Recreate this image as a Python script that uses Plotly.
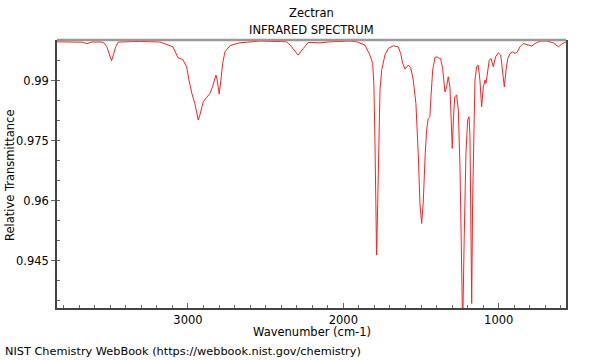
import plotly.graph_objects as go

# Spectrum data (wavenumber in cm-1, relative transmittance)
wavenumber = [
    3843, 3750, 3680, 3651, 3620, 3560, 3542, 3522, 3505, 3492, 3480, 3465, 3451, 3439,
    3310, 3181, 3097, 3065, 3033, 3009, 2994, 2975, 2956, 2945, 2934, 2923, 2902, 2880,
    2859, 2842, 2831, 2820, 2812, 2799, 2788, 2777, 2762, 2730, 2666, 2537, 2400, 2365,
    2333, 2291, 2258, 2226, 2151, 2086, 1958, 1914, 1861, 1829, 1811, 1803, 1797, 1790,
    1786, 1779, 1773, 1764, 1753, 1732, 1711, 1679, 1647, 1631, 1618, 1603, 1582, 1567,
    1550, 1533, 1518, 1507, 1496, 1486, 1473, 1464, 1454, 1443, 1436, 1425, 1410, 1396,
    1383, 1374, 1361, 1346, 1335, 1325, 1314, 1305, 1299, 1292, 1283, 1271, 1260, 1249,
    1238, 1232, 1222, 1211, 1200, 1191, 1185, 1179, 1174, 1168, 1161, 1153, 1142, 1132,
    1121, 1110, 1099, 1088, 1082, 1074, 1061, 1050, 1035, 1020, 1003, 987, 974, 964,
    953, 942, 927, 910, 895, 880, 863, 842, 810, 788, 766, 734, 691, 649, 616, 594, 567,
]
transmittance = [
    0.99975, 0.99970, 0.99965, 0.99930, 0.99970, 0.99970, 0.99950, 0.99850, 0.99650, 0.99500,
    0.99650, 0.99850, 0.99960, 0.99970, 0.99985, 0.99970, 0.99850, 0.99580, 0.99530, 0.99350,
    0.99025, 0.98683, 0.98433, 0.98225, 0.98018, 0.98150, 0.98475, 0.98583, 0.98683, 0.98850,
    0.99018, 0.99143, 0.99018, 0.98668, 0.99018, 0.99433, 0.99725, 0.99880, 0.99950, 0.99993,
    0.99980, 0.99975, 0.99850, 0.99643, 0.99808, 0.99958, 0.99950, 0.99975, 0.99993, 0.99975,
    0.99893, 0.99643, 0.99433, 0.98850, 0.97600, 0.95933, 0.94643, 0.95933, 0.97600, 0.98775,
    0.99275, 0.99650, 0.99808, 0.99875, 0.99850, 0.99683, 0.99433, 0.99293, 0.99393, 0.99333,
    0.99018, 0.98433, 0.97183, 0.95933, 0.95433, 0.95933, 0.97183, 0.97768, 0.98058, 0.98100,
    0.98600, 0.99268, 0.99583, 0.99600, 0.99558, 0.99558, 0.99308, 0.98725, 0.98850, 0.99100,
    0.98850, 0.98018, 0.97308, 0.98018, 0.98600, 0.98643, 0.98268, 0.96775, 0.94683, 0.92800,
    0.95100, 0.97183, 0.98018, 0.98100, 0.97600, 0.95933, 0.93433, 0.95933, 0.98018, 0.99018,
    0.99350, 0.99393, 0.99018, 0.98350, 0.98850, 0.99018, 0.98933, 0.99183, 0.99518, 0.99558,
    0.99350, 0.99600, 0.99700, 0.99643, 0.99268, 0.98850, 0.99268, 0.99558, 0.99683, 0.99725,
    0.99683, 0.99725, 0.99850, 0.99933, 0.99893, 0.99868, 0.99933, 0.99993, 0.99993, 0.99950,
    0.99850, 0.99918, 0.99975,
]

x_ticks = [3000, 2000, 1000]
y_ticks = [0.945, 0.96, 0.975, 0.99]
y_tick_labels = ["0.945", "0.96", "0.975", "0.99"]

title_line1 = "Zectran"
title_line2 = "INFRARED SPECTRUM"
x_title = "Wavenumber (cm-1)"
y_title = "Relative Transmittance"
footer = "NIST Chemistry WebBook (https://webbook.nist.gov/chemistry)"

FONT = "DejaVu Sans"
FS = 11.5

fig = go.Figure()
fig.add_trace(go.Scatter(
    x=wavenumber, y=transmittance, mode="lines",
    line=dict(color="#ff2020", width=1),
    hoverinfo="skip", showlegend=False,
))

fig.update_layout(
    width=600, height=360,
    margin=dict(l=57, r=34, t=40, b=52),
    paper_bgcolor="white", plot_bgcolor="white",
    font=dict(family=FONT, size=FS, color="black"),
    showlegend=False,
)

fig.update_xaxes(
    range=[3843, 567], tickvals=x_ticks, ticktext=[str(v) for v in x_ticks],
    showgrid=False, zeroline=False,
    showline=True, linecolor="#444", linewidth=1.5, mirror=False,
    ticks="inside", ticklen=5, tickcolor="#666",
    minor=dict(dtick=100, tick0=0, ticks="inside", ticklen=3, tickcolor="#666", showgrid=False),
    tickfont=dict(family=FONT, size=FS),
)
fig.update_yaxes(
    range=[0.9332, 1.0002], tickvals=y_ticks, ticktext=y_tick_labels,
    showgrid=False, zeroline=False,
    showline=True, linecolor="#444", linewidth=1.5, mirror=True,
    ticks="outside", ticklen=4, tickcolor="#666",
    minor=dict(dtick=0.005, tick0=0, ticks="inside", ticklen=3, tickcolor="#666", showgrid=False),
    tickfont=dict(family=FONT, size=FS),
)

# gray frame top line
fig.add_shape(type="line", xref="paper", yref="paper", x0=0, x1=1, y0=1, y1=1,
              line=dict(color="#999", width=2.5))

fig.add_annotation(text=title_line1, xref="paper", yref="paper", x=0.5, y=1.1007,
                   xanchor="center", yanchor="middle", showarrow=False,
                   font=dict(family=FONT, size=FS))
fig.add_annotation(text=title_line2, xref="paper", yref="paper", x=0.5, y=1.037,
                   xanchor="center", yanchor="middle", showarrow=False,
                   font=dict(family=FONT, size=FS))
fig.add_annotation(text=x_title, xref="paper", yref="paper", x=0.5, y=-0.0896,
                   xanchor="center", yanchor="middle", showarrow=False,
                   font=dict(family=FONT, size=FS))
fig.add_annotation(text=y_title, xref="paper", yref="paper", x=-0.0923, y=0.496,
                   xanchor="center", yanchor="middle", showarrow=False, textangle=-90,
                   font=dict(family=FONT, size=FS))
fig.add_annotation(text=footer, xref="paper", yref="paper", x=-0.106, y=-0.164,
                   xanchor="left", yanchor="middle", showarrow=False,
                   font=dict(family=FONT, size=11.3))

fig.write_html("out.html", config={"displayModeBar": False},
               post_script="document.body.style.margin='0px';")
